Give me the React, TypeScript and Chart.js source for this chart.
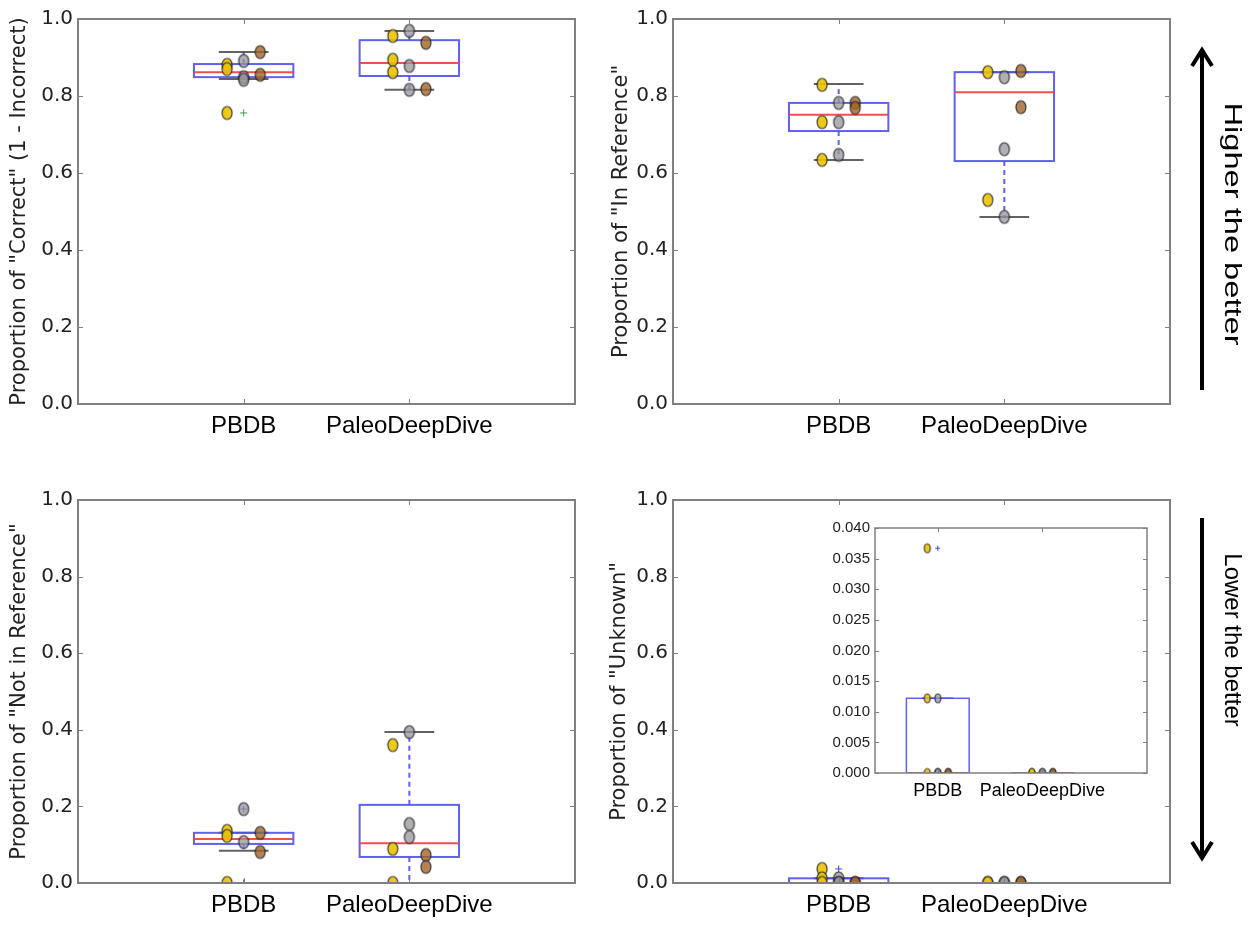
import React, { useEffect, useRef } from "react";
import { Chart, registerables } from "chart.js";
Chart.register(...registerables);

// ---------- data ----------
const categories = ["PBDB", "PaleoDeepDive"];
const mainTicks = [0, 0.2, 0.4, 0.6, 0.8, 1.0];
const insetTicks = [0, 0.005, 0.01, 0.015, 0.02, 0.025, 0.03, 0.035, 0.04];

// Proportion of "Correct"
const correctQ1 = [0.849, 0.852];
const correctMedian = [0.862, 0.886];
const correctQ3 = [0.883, 0.945];
const correctLow = [0.844, 0.816];
const correctHigh = [0.914, 0.969];
const correctFliers = [[0.756], []];
const correctA = [[0.881, 0.870, 0.756], [0.956, 0.894, 0.862]];
const correctB = [[0.891, 0.849, 0.842], [0.969, 0.878, 0.816]];
const correctC = [[0.914, 0.855], [0.938, 0.818]];

// Proportion of "In Reference"
const inRefQ1 = [0.709, 0.631];
const inRefMedian = [0.751, 0.81];
const inRefQ3 = [0.782, 0.862];
const inRefLow = [0.634, 0.486];
const inRefHigh = [0.831, 0.862];
const inRefFliers = [[], []];
const inRefA = [[0.829, 0.732, 0.634], [0.862, 0.53]];
const inRefB = [[0.782, 0.732, 0.647], [0.849, 0.662, 0.486]];
const inRefC = [[0.782, 0.769], [0.865, 0.771]];

// Proportion of "Not in Reference"
const notRefQ1 = [0.102, 0.068];
const notRefMedian = [0.115, 0.104];
const notRefQ3 = [0.131, 0.204];
const notRefLow = [0.084, 0.0];
const notRefHigh = [0.131, 0.394];
const notRefFliers = [[0.193, 0.0], []];
const notRefA = [[0.136, 0.123, 0.0], [0.36, 0.089, 0.0]];
const notRefB = [[0.193, 0.107], [0.394, 0.154, 0.12]];
const notRefC = [[0.131, 0.081], [0.073, 0.042]];

// Proportion of "Unknown"
const unknownQ1 = [0.0, 0.0];
const unknownMedian = [0.0, 0.0];
const unknownQ3 = [0.0122, 0.0];
const unknownLow = [0.0, 0.0];
const unknownHigh = [0.0122, 0.0];
const unknownFliers = [[0.0367], []];
const unknownA = [[0.0367, 0.0122, 0.0], [0.0, 0.0]];
const unknownB = [[0.0122, 0.0, 0.0], [0.0, 0.0]];
const unknownC = [[0.0, 0.0], [0.0, 0.0]];

// ---------- styles ----------
const BOX_BLUE = "rgba(80,80,240,0.9)";
const MED_RED = "rgba(240,70,70,0.95)";
const CAP_GRAY = "rgba(70,70,70,0.85)";
const FRAME = "#808080";
const COL_A = "rgba(235,195,0,0.9)";
const COL_B = "rgba(150,150,155,0.75)";
const COL_C = "rgba(160,100,40,0.8)";

type Spec = {
  left: number; top: number; width: number; height: number;
  area: { left: number; top: number; right: number; bottom: number };
  xMin: number; xMax: number;
  yMin: number; yMax: number; yTicks: number[]; decimals: number;
  yFont: string; yFontSize: number; xFontSize: number; xPad: number;
  title?: string; titleX?: number; titleSize?: number;
  q1: number[]; med: number[]; q3: number[]; lo: number[]; hi: number[]; fliers: number[][];
  a: number[][]; b: number[][]; c: number[][];
  mW: number; mH: number; frameW: number; tickLen: number; lw: number;
  flierColor: string; flierSize: number; white?: boolean; arrow?: "up" | "down";
};

function marker(fill: string, w: number, h: number) {
  const cv = document.createElement("canvas");
  cv.width = Math.ceil(w + 4);
  cv.height = Math.ceil(h + 4);
  const g = cv.getContext("2d")!;
  g.beginPath();
  g.ellipse(cv.width / 2, cv.height / 2, w / 2, h / 2, 0, 0, Math.PI * 2);
  g.fillStyle = fill;
  g.fill();
  g.lineWidth = 1.2;
  g.strokeStyle = "rgba(30,30,30,0.85)";
  g.stroke();
  return cv;
}

function line(ctx: CanvasRenderingContext2D, x1: number, y1: number, x2: number, y2: number) {
  ctx.beginPath();
  ctx.moveTo(x1, y1);
  ctx.lineTo(x2, y2);
  ctx.stroke();
}

function buildConfig(s: Spec): any {
  const yWidth = s.area.left - s.left;
  const padTop = s.area.top - s.top;
  const padRight = s.left + s.width - s.area.right;
  const xHeight = s.top + s.height - s.area.bottom;
  const titleSize = s.titleSize || 20;
  const titlePad = s.titleX !== undefined ? s.titleX - s.left - (titleSize * 1.2) / 2 : 0;

  const pts = (arr: number[][], off: number) =>
    arr.flatMap((vals, i) => vals.map((v) => ({ x: i + 1 + off, y: v })));

  const boxPlugin = {
    id: "boxes",
    beforeDraw(chart: any) {
      if (!s.white) return;
      const ca = chart.chartArea;
      const ctx = chart.ctx;
      ctx.save();
      ctx.fillStyle = "#fff";
      ctx.fillRect(ca.left, ca.top, ca.right - ca.left, ca.bottom - ca.top);
      ctx.restore();
    },
    beforeDatasetsDraw(chart: any) {
      const { ctx, chartArea: ca, scales } = chart;
      const x = scales.x, y = scales.y;
      ctx.save();
      ctx.beginPath();
      ctx.rect(ca.left, ca.top, ca.right - ca.left, ca.bottom - ca.top);
      ctx.clip();
      ctx.lineWidth = s.lw;
      for (let i = 0; i < s.q1.length; i++) {
        const c = i + 1;
        const xc = x.getPixelForValue(c);
        const xl = x.getPixelForValue(c - 0.3), xr = x.getPixelForValue(c + 0.3);
        const cl = x.getPixelForValue(c - 0.15), cr = x.getPixelForValue(c + 0.15);
        const yq1 = y.getPixelForValue(s.q1[i]);
        const yq3 = y.getPixelForValue(s.q3[i]);
        const ym = y.getPixelForValue(s.med[i]);
        const ylo = y.getPixelForValue(s.lo[i]);
        const yhi = y.getPixelForValue(s.hi[i]);
        ctx.strokeStyle = BOX_BLUE;
        ctx.setLineDash([5, 4]);
        line(ctx, xc, yq3, xc, yhi);
        line(ctx, xc, yq1, xc, ylo);
        ctx.setLineDash([]);
        ctx.strokeStyle = CAP_GRAY;
        line(ctx, cl, yhi, cr, yhi);
        line(ctx, cl, ylo, cr, ylo);
        ctx.strokeStyle = BOX_BLUE;
        ctx.strokeRect(xl, yq3, xr - xl, yq1 - yq3);
        ctx.strokeStyle = MED_RED;
        line(ctx, xl, ym, xr, ym);
        ctx.strokeStyle = s.flierColor;
        ctx.lineWidth = 1;
        for (const f of s.fliers[i]) {
          const fy = y.getPixelForValue(f);
          line(ctx, xc - s.flierSize, fy, xc + s.flierSize, fy);
          line(ctx, xc, fy - s.flierSize, xc, fy + s.flierSize);
        }
        ctx.lineWidth = s.lw;
      }
      ctx.restore();
    },
    afterDraw(chart: any) {
      const { ctx, chartArea: ca, scales } = chart;
      const x = scales.x, y = scales.y;
      ctx.save();
      ctx.strokeStyle = FRAME;
      ctx.lineWidth = s.frameW;
      ctx.strokeRect(ca.left, ca.top, ca.right - ca.left, ca.bottom - ca.top);
      ctx.lineWidth = 1;
      for (const v of s.yTicks) {
        const py = Math.round(y.getPixelForValue(v)) + 0.5;
        line(ctx, ca.left, py, ca.left + s.tickLen, py);
        line(ctx, ca.right - s.tickLen, py, ca.right, py);
      }
      categories.forEach((_, i) => {
        const px = Math.round(x.getPixelForValue(i + 1)) + 0.5;
        line(ctx, px, ca.top, px, ca.top + s.tickLen);
        line(ctx, px, ca.bottom - s.tickLen, px, ca.bottom);
      });
      if (s.arrow) {
        const ox = s.left, oy = s.top;
        ctx.strokeStyle = "#000";
        ctx.fillStyle = "#000";
        ctx.lineWidth = 4;
        ctx.lineCap = "butt";
        const ax = 1202 - ox;
        if (s.arrow === "up") {
          line(ctx, ax, 390 - oy, ax, 50 - oy);
          ctx.beginPath();
          ctx.moveTo(ax - 10, 66 - oy);
          ctx.lineTo(ax, 50 - oy);
          ctx.lineTo(ax + 10, 66 - oy);
          ctx.stroke();
        } else {
          line(ctx, ax, 518 - oy, ax, 858 - oy);
          ctx.beginPath();
          ctx.moveTo(ax - 10, 842 - oy);
          ctx.lineTo(ax, 858 - oy);
          ctx.lineTo(ax + 10, 842 - oy);
          ctx.stroke();
        }
        ctx.save();
        const text = s.arrow === "up" ? "Higher the better" : "Lower the better";
        const cy = s.arrow === "up" ? 224 : 640;
        ctx.translate(1232 - ox, cy - oy);
        ctx.rotate(Math.PI / 2);
        if (s.arrow === "up") ctx.scale(1.36, 1);
        ctx.font = "24px 'Liberation Sans', Arial, sans-serif";
        ctx.textAlign = "center";
        ctx.textBaseline = "middle";
        ctx.fillText(text, 0, 0);
        ctx.restore();
      }
      ctx.restore();
    },
  };

  return {
    type: "scatter",
    plugins: [boxPlugin],
    data: {
      datasets: [
        { data: pts(s.a, -0.1), pointStyle: marker(COL_A, s.mW, s.mH), clip: 0 },
        { data: pts(s.b, 0), pointStyle: marker(COL_B, s.mW, s.mH), clip: 0 },
        { data: pts(s.c, 0.1), pointStyle: marker(COL_C, s.mW, s.mH), clip: 0 },
      ],
    },
    options: {
      animation: false,
      responsive: false,
      events: [],
      layout: { padding: { left: 0, top: padTop, right: padRight, bottom: 0 } },
      plugins: { legend: { display: false }, tooltip: { enabled: false } },
      scales: {
        x: {
          type: "linear",
          min: s.xMin,
          max: s.xMax,
          afterBuildTicks: (sc: any) => {
            sc.ticks = categories.map((_, i) => ({ value: i + 1 }));
          },
          afterFit: (sc: any) => {
            sc.height = xHeight;
          },
          grid: { display: false, drawTicks: false },
          border: { display: false },
          ticks: {
            callback: (v: any) => categories[Math.round(Number(v)) - 1] ?? "",
            font: { family: "'Liberation Sans', Arial, sans-serif", size: s.xFontSize },
            color: "#000",
            padding: s.xPad,
            maxRotation: 0,
            autoSkip: false,
          },
        },
        y: {
          type: "linear",
          min: s.yMin,
          max: s.yMax,
          afterBuildTicks: (sc: any) => {
            sc.ticks = s.yTicks.map((v) => ({ value: v }));
          },
          afterFit: (sc: any) => {
            sc.width = yWidth;
          },
          grid: { display: false, drawTicks: false },
          border: { display: false },
          ticks: {
            callback: (v: any) => Number(v).toFixed(s.decimals),
            font: { family: s.yFont, size: s.yFontSize },
            color: "#222",
            padding: 5,
            autoSkip: false,
          },
          title: {
            display: !!s.title,
            text: s.title || "",
            font: { family: "'DejaVu Sans', sans-serif", size: titleSize },
            color: "#222",
            padding: { top: titlePad, bottom: 0 },
          },
        },
      },
    },
  };
}

function Panel({ spec }: { spec: Spec }) {
  const ref = useRef<HTMLCanvasElement>(null);
  useEffect(() => {
    const chart = new Chart(ref.current!, buildConfig(spec));
    return () => chart.destroy();
  }, []);
  return (
    <canvas
      ref={ref}
      width={spec.width}
      height={spec.height}
      style={{ position: "absolute", left: spec.left, top: spec.top, width: spec.width, height: spec.height }}
    />
  );
}

const mainCommon = {
  xMin: 0, xMax: 3,
  yMin: 0, yMax: 1, yTicks: mainTicks, decimals: 1,
  yFont: "'DejaVu Sans', sans-serif", yFontSize: 20, xFontSize: 24, xPad: 8,
  titleSize: 21, mW: 10, mH: 13, frameW: 2, tickLen: 5, lw: 2, flierSize: 3.5,
};

export default function App() {
  const specs: Spec[] = [
    {
      ...mainCommon, left: 0, top: 0, width: 610, height: 460,
      area: { left: 78, top: 19, right: 575, bottom: 404 },
      title: 'Proportion of "Correct" (1 - Incorrect)', titleX: 20,
      q1: correctQ1, med: correctMedian, q3: correctQ3, lo: correctLow, hi: correctHigh, fliers: correctFliers,
      a: correctA, b: correctB, c: correctC, flierColor: "#40a040",
    },
    {
      ...mainCommon, left: 595, top: 0, width: 664, height: 460,
      area: { left: 673, top: 19, right: 1170, bottom: 404 },
      title: 'Proportion of "In Reference"', titleX: 622,
      q1: inRefQ1, med: inRefMedian, q3: inRefQ3, lo: inRefLow, hi: inRefHigh, fliers: inRefFliers,
      a: inRefA, b: inRefB, c: inRefC, flierColor: "#4040ff", arrow: "up",
    },
    {
      ...mainCommon, left: 0, top: 470, width: 610, height: 455,
      area: { left: 78, top: 500, right: 575, bottom: 883 },
      title: 'Proportion of "Not in Reference"', titleX: 20,
      q1: notRefQ1, med: notRefMedian, q3: notRefQ3, lo: notRefLow, hi: notRefHigh, fliers: notRefFliers,
      a: notRefA, b: notRefB, c: notRefC, flierColor: "#4040ff",
    },
    {
      ...mainCommon, left: 595, top: 470, width: 664, height: 455,
      area: { left: 673, top: 500, right: 1170, bottom: 883 },
      title: 'Proportion of "Unknown"', titleX: 620,
      q1: unknownQ1, med: unknownMedian, q3: unknownQ3, lo: unknownLow, hi: unknownHigh, fliers: unknownFliers,
      a: unknownA, b: unknownB, c: unknownC, flierColor: "#4040ff", arrow: "down",
    },
  ];
  const inset: Spec = {
    left: 810, top: 512, width: 350, height: 300,
    area: { left: 875, top: 528, right: 1147, bottom: 773 },
    xMin: 0.4, xMax: 3,
    yMin: 0, yMax: 0.04, yTicks: insetTicks, decimals: 3,
    yFont: "'Liberation Sans', Arial, sans-serif", yFontSize: 15, xFontSize: 18, xPad: 7,
    q1: unknownQ1, med: unknownMedian, q3: unknownQ3, lo: unknownLow, hi: unknownHigh, fliers: unknownFliers,
    a: unknownA, b: unknownB, c: unknownC,
    mW: 6, mH: 9, frameW: 1.5, tickLen: 4, lw: 1.5, flierColor: "#4040ff", flierSize: 2.5, white: true,
  };
  return (
    <div style={{ position: "fixed", left: 0, top: 0, width: 1259, height: 929, background: "#fff" }}>
      {specs.map((sp, i) => (
        <Panel key={i} spec={sp} />
      ))}
      <Panel spec={inset} />
    </div>
  );
}
